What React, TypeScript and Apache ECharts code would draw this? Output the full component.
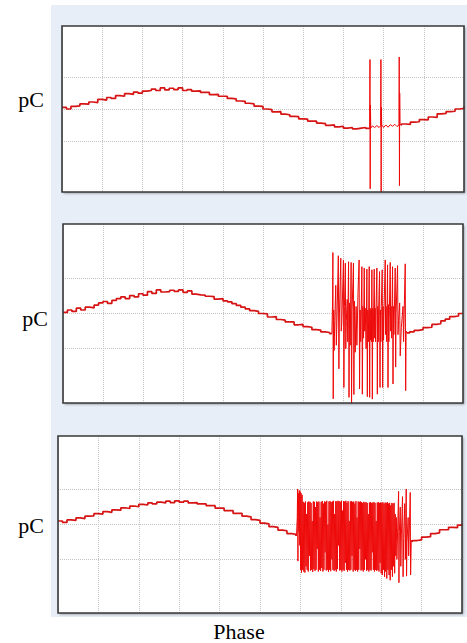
import React, { useEffect, useRef } from 'react';
import * as echarts from 'echarts';

// Base waveform samples every 4 degrees of phase (0..360)
const PHASE_STEP = 4;
const PHASE_MAX = 360;
const PHASE_TICK = 36;
const gridLevels = [-1, 0, 1];

const base1 = [
  0.05, 0.0, 0.08, 0.1, 0.16, 0.15, 0.22, 0.2, 0.3, 0.28,
  0.36, 0.33, 0.42, 0.4, 0.48, 0.46, 0.53, 0.5, 0.56, 0.58,
  0.62, 0.58, 0.66, 0.6, 0.65, 0.61, 0.66, 0.58, 0.61, 0.56,
  0.57, 0.52, 0.52, 0.45, 0.46, 0.4, 0.4, 0.33, 0.32, 0.25,
  0.24, 0.18, 0.16, 0.09, 0.08, 0.0, -0.02, -0.09, -0.08, -0.16,
  -0.18, -0.23, -0.24, -0.31, -0.32, -0.38, -0.38, -0.44, -0.46, -0.51,
  -0.5, -0.56, -0.54, -0.6, -0.58, -0.62, -0.6, -0.58, -0.61, -0.57,
  -0.56, -0.55, -0.53, -0.56, -0.5, -0.53, -0.47, -0.48, -0.41, -0.4,
  -0.33, -0.34, -0.25, -0.26, -0.15, -0.14, -0.08, -0.07, 0.0, 0.02, 0.08,
];
const spikes1: [number, number][] = [
  [275.5, -0.58], [275.8, 1.55], [276.0, -2.5], [276.2, 0.12], [276.5, -0.6],
  [278, -0.53], [280, -0.58], [282, -0.52], [284, -0.58],
  [285.4, -0.52], [285.6, 1.55], [285.8, -2.6], [286, 0.05], [286.3, -0.5],
  [288, -0.58], [290, -0.5], [292, -0.57], [294, -0.49], [296, -0.54], [298, -0.48], [300, -0.55],
  [301.8, -0.5], [302, 1.63], [302.2, -2.4], [302.4, 0.5], [302.7, -0.45], [303.2, -0.5],
];

const base2 = [
  0.03, 0.1, 0.06, 0.15, 0.1, 0.18, 0.16, 0.24, 0.3, 0.34,
  0.29, 0.37, 0.42, 0.47, 0.42, 0.51, 0.47, 0.56, 0.52, 0.62,
  0.57, 0.67, 0.61, 0.62, 0.66, 0.63, 0.67, 0.6, 0.64, 0.55,
  0.53, 0.52, 0.49, 0.48, 0.41, 0.42, 0.36, 0.33, 0.28, 0.23,
  0.18, 0.13, 0.08, 0.06, 0.0, -0.01, -0.1, -0.09, -0.17, -0.19,
  -0.24, -0.24, -0.32, -0.31, -0.37, -0.39, -0.46, -0.47, -0.52, -0.54,
  -0.57, -0.58, -0.58, -0.57, -0.56, -0.56, -0.55, -0.55, -0.55, -0.55,
  -0.55, -0.55, -0.55, -0.55, -0.54, -0.54, -0.53, -0.53, -0.52, -0.48,
  -0.46, -0.4, -0.39, -0.31, -0.29, -0.21, -0.16, -0.09, -0.07, 0.0, 0.0,
];
const burst2: [number, number][] = [
  [242.0, -0.57], [242.6, 0.3], [242.9, 1.73], [243.2, -2.42], [243.6, 0.1], [244, -1.05], [244.6, -0.2],
  [245.5, 0.8], [246, -0.9], [246.6, -0.1], [247.8, 1.64], [248.3, -1.57], [248.8, 0.0],
  [250.0, 1.57], [250.4, -0.5], [250.9, -0.3], [252.4, 1.52], [252.8, -2.1], [253.3, 0.2],
  [254.1, 1.43], [254.5, -1.0], [255, -0.2], [255.8, 0.4], [256.2, -0.8], [257.0, 1.47], [257.4, -2.38],
  [257.9, 0.3], [258.5, -0.9], [259.3, 1.45], [259.7, -2.55], [260.2, 0.1], [261.4, 1.43], [261.8, -2.3],
  [262.3, 0.35], [263, -1.1], [263.8, 0.2], [264.5, -0.9], [265.5, 0.6], [266.5, 1.52], [266.9, -2.14],
  [267.4, 0.1], [268, -0.8], [269.0, 1.33], [269.4, -2.29], [269.9, 0.2], [270.5, -0.7], [271.1, 1.29],
  [271.5, -0.5], [272, 0.15], [272.8, -1.0], [273.5, 1.26], [273.9, -2.36], [274.3, 0.1], [274.8, -0.8],
  [275.6, 1.33], [276, -2.38], [276.4, 0.15], [276.8, -0.75], [277.3, 0.1], [277.6, -0.8], [278.0, 1.24],
  [278.4, -2.43], [278.8, 0.15], [279.2, -0.8], [279.6, 0.1], [280.1, 1.26], [280.5, -0.7], [280.9, 0.15],
  [281.3, -0.8], [281.7, 0.1], [282.5, 1.29], [282.9, -2.29], [283.3, 0.2], [283.7, -0.8], [284.1, 0.15],
  [284.9, 1.19], [285.3, -2.1], [285.7, 0.1], [286.1, -0.8], [286.5, 0.2], [287.3, 1.24], [287.7, -2.1],
  [288.1, 0.2], [288.5, -0.75], [289, 0.2], [290.0, 1.52], [290.4, -0.6], [290.8, 0.2], [291.3, -0.8],
  [292.1, 1.38], [292.5, -2.1], [292.9, 0.25], [293.3, -0.8], [293.8, 0.2], [294.5, 1.45], [294.9, -0.5],
  [295.3, 0.2], [295.8, -0.7], [296.6, 1.33], [297, -2.0], [297.4, 0.2], [297.8, -0.6], [299.0, 1.29],
  [299.4, -1.52], [299.8, 0.0], [301.1, 1.36], [301.5, -0.6], [302, -0.2], [303, 0.3], [303.5, -1.2],
  [304.5, -0.4], [306, 0.2], [306.5, -0.8], [308.0, 1.41], [308.4, -2.19], [308.8, -0.5], [309.5, -0.55],
];

const base3 = [
  0.1, 0.06, 0.13, 0.12, 0.19, 0.17, 0.24, 0.25, 0.31, 0.3,
  0.37, 0.35, 0.42, 0.41, 0.48, 0.46, 0.53, 0.51, 0.58, 0.56,
  0.62, 0.59, 0.64, 0.62, 0.67, 0.63, 0.68, 0.64, 0.67, 0.62,
  0.63, 0.59, 0.59, 0.54, 0.54, 0.47, 0.47, 0.4, 0.4, 0.32,
  0.32, 0.24, 0.22, 0.14, 0.12, 0.04, 0.02, -0.06, -0.08, -0.16,
  -0.18, -0.26, -0.28, -0.33, -0.36, -0.4, -0.43, -0.46, -0.48, -0.5,
  -0.52, -0.53, -0.54, -0.55, -0.55, -0.55, -0.55, -0.55, -0.55, -0.54,
  -0.54, -0.53, -0.52, -0.52, -0.5, -0.5, -0.5, -0.49, -0.49, -0.46,
  -0.44, -0.36, -0.35, -0.26, -0.24, -0.15, -0.15, -0.08, -0.09, -0.02, 0.02,
];
const burst3: [number, number][] = [
  [212.5, -0.33], [213.2, 0.2], [213.5, 1.02], [213.8, -1.05], [214.2, 0.9], [214.6, -0.2], [215, 0.98],
  [215.4, -0.6], [215.8, 0.95], [216.2, -1.3], [216.6, 0.9], [217, -1.38], [217.5, 0.85], [218, -1.3],
  [218.5, 0.65], [219, -1.35], [219.5, 0.62], [220, -1.38], [220.5, 0.66], [221, -1.2], [221.5, 0.3],
  [222, -1.3], [222.5, 0.64], [223, -1.35], [223.5, 0.66], [224, -0.9], [224.5, 0.65], [225, -1.32],
  [225.5, 0.62], [226, -1.3], [226.5, 0.1], [227, -1.36], [227.5, 0.66], [228, -1.28], [228.5, 0.65],
  [229, -1.33], [229.5, 0.5], [230, -1.3], [230.5, 0.66], [231, -0.7], [231.5, 0.64], [232, -1.35],
  [232.5, 0.66], [233, -1.3], [233.5, 0.2], [234, -1.33], [234.5, 0.65], [235, -1.25], [235.5, 0.67],
  [236, -1.35], [236.5, 0.6], [237, -1.3], [237.5, 0.66], [238, -0.8], [238.5, 0.65], [239, -1.32],
  [239.5, 0.68], [240, -1.3], [240.5, 0.0], [241, -1.36], [241.5, 0.66], [242, -1.3], [242.5, 0.67],
  [243, -1.34], [243.5, 0.64], [244, -1.0], [244.5, 0.66], [245, -1.3], [245.5, 0.68], [246, -1.33],
  [246.5, 0.3], [247, -1.3], [247.5, 0.67], [248, -1.35], [248.5, 0.66], [249, -1.28], [249.5, 0.68],
  [250, -0.6], [250.5, 0.67], [251, -1.32], [251.5, 0.65], [252, -1.3], [252.5, 0.68], [253, -1.35],
  [253.5, 0.4], [254, -1.3], [254.5, 0.67], [255, -1.33], [255.5, 0.66], [256, -1.1], [256.5, 0.68],
  [257, -1.3], [257.5, 0.62], [258, -1.35], [258.5, 0.67], [259, -1.3], [259.5, 0.1], [260, -1.32],
  [260.5, 0.66], [261, -1.3], [261.5, 0.67], [262, -0.9], [262.5, 0.65], [263, -1.35], [263.5, 0.66],
  [264, -1.3], [264.5, 0.6], [265, -1.33], [265.5, 0.67], [266, -1.3], [266.5, 0.2], [267, -1.35],
  [267.5, 0.66], [268, -1.3], [268.5, 0.65], [269, -0.7], [269.5, 0.66], [270, -1.32], [270.5, 0.64],
  [271, -1.3], [271.5, 0.62], [272, -1.35], [272.5, 0.65], [273, -1.3], [273.5, 0.63], [274, -1.0],
  [274.5, 0.64], [275, -1.33], [275.5, 0.62], [276, -1.3], [276.5, 0.3], [277, -1.35], [277.5, 0.63],
  [278, -1.3], [278.5, 0.64], [279, -1.32], [279.5, 0.62], [280, -0.8], [280.5, 0.63], [281, -1.3],
  [281.5, 0.64], [282, -1.35], [282.5, 0.62], [283, -1.3], [283.5, 0.1], [284, -1.33], [284.5, 0.63],
  [285, -1.3], [285.5, 0.64], [286, -1.35], [286.5, 0.62], [287, -1.1], [287.5, 0.63], [288, -1.4],
  [288.5, 0.62], [289, -1.45], [289.5, 0.64], [290, -1.3], [290.5, 0.6], [291, -1.5], [291.5, 0.63],
  [292, -1.35], [292.5, 0.62], [293, -1.55], [293.5, 0.64], [294, -1.3], [294.5, 0.6], [295, -1.45],
  [295.5, 0.62], [296, -1.6], [296.5, 0.55], [297, -1.3], [297.5, 0.62], [298, -1.5], [298.5, 0.6],
  [299, -1.2], [299.5, 0.62], [300, -1.4], [300.5, 0.3], [301, -0.9], [301.5, 0.2], [302, -1.0],
  [303.5, 0.95], [303.8, -1.67], [304.2, -0.2], [305, 0.5], [305.5, -1.2], [306, -0.3], [307, 0.8],
  [307.5, -1.5], [308, -0.4], [309, 0.6], [309.5, -1.0], [310.3, 1.02], [310.6, -1.48], [311, -0.5],
  [312, 0.2], [312.5, -0.9], [313.9, 0.92], [314.2, -1.45], [314.8, -0.45], [315.5, -0.5],
];

const panels = [
  { base: base1, burst: spikes1, yLimit: 2.6, left: 62, top: 26, width: 402, height: 166, labelX: 31, labelY: 99 },
  { base: base2, burst: burst2, yLimit: 2.54, left: 63, top: 224, width: 400, height: 179, labelX: 35, labelY: 318 },
  { base: base3, burst: burst3, yLimit: 2.54, left: 58, top: 436, width: 404, height: 177, labelX: 31, labelY: 525 },
];

const yLabel = 'pC';
const xLabel = 'Phase';

function buildOption() {
  const grid: any[] = [];
  const xAxis: any[] = [];
  const yAxis: any[] = [];
  const series: any[] = [];
  const graphic: any[] = [];

  panels.forEach((p, i) => {
    grid.push({
      left: p.left, top: p.top, width: p.width, height: p.height,
      show: true, backgroundColor: '#ffffff', borderWidth: 0,
      shadowColor: 'rgba(0,0,0,0.35)', shadowBlur: 2, shadowOffsetX: 1.5, shadowOffsetY: 1.5,
    });
    xAxis.push({
      type: 'value', gridIndex: i, min: 0, max: PHASE_MAX, interval: PHASE_TICK,
      axisLine: { show: false }, axisTick: { show: false }, axisLabel: { show: false },
      splitLine: { show: true, lineStyle: { color: '#c4c4c4', type: 'dotted', width: 1 } },
    });
    yAxis.push({
      type: 'value', gridIndex: i, min: -p.yLimit, max: p.yLimit,
      axisLine: { show: false }, axisTick: { show: false }, axisLabel: { show: false },
      splitLine: { show: false },
    });
    const lo = p.burst[0][0];
    const hi = p.burst[p.burst.length - 1][0];
    const pts = p.base.map((v, k) => [k * PHASE_STEP, v] as [number, number]);
    const left = pts.filter((d) => d[0] < lo).concat([p.burst[0]]);
    const right = [p.burst[p.burst.length - 1] as [number, number]].concat(pts.filter((d) => d[0] > hi));
    const baseStyle = { color: '#d61414', width: 1.7 };
    series.push({
      type: 'line', xAxisIndex: i, yAxisIndex: i, data: left, step: 'end', showSymbol: false,
      lineStyle: baseStyle, z: 3, silent: true,
      markLine: {
        z: 1, silent: true, symbol: ['none', 'none'], label: { show: false },
        lineStyle: { color: '#c4c4c4', type: 'dotted', width: 1 },
        data: gridLevels.map((g) => ({ yAxis: g })),
      },
    });
    series.push({
      type: 'line', xAxisIndex: i, yAxisIndex: i, data: p.burst, showSymbol: false,
      lineStyle: { color: '#ee0a0a', width: 1 }, z: 3, silent: true,
    });
    series.push({
      type: 'line', xAxisIndex: i, yAxisIndex: i, data: right, step: 'end', showSymbol: false,
      lineStyle: baseStyle, z: 3, silent: true,
    });
    graphic.push({
      type: 'rect', z: 100, silent: true,
      shape: { x: p.left, y: p.top, width: p.width, height: p.height },
      style: { fill: 'none', stroke: '#383838', lineWidth: 1.6 },
    });
    graphic.push({
      type: 'text', z: 100, x: p.labelX, y: p.labelY, silent: true,
      style: { text: yLabel, font: '22px "Liberation Serif", "Times New Roman", serif', fill: '#000', align: 'center', verticalAlign: 'middle' },
    });
  });

  graphic.push({
    type: 'text', z: 100, x: 239, y: 631, silent: true,
    style: { text: xLabel, font: '22px "Liberation Serif", "Times New Roman", serif', fill: '#000', align: 'center', verticalAlign: 'middle' },
  });

  return { animation: false, backgroundColor: 'transparent', grid, xAxis, yAxis, series, graphic };
}

export default function App() {
  const ref = useRef<HTMLDivElement>(null);
  useEffect(() => {
    if (!ref.current) return;
    const chart = echarts.init(ref.current, undefined, { renderer: 'svg' });
    chart.setOption(buildOption() as any);
    return () => chart.dispose();
  }, []);
  return (
    <div style={{ position: 'absolute', left: 0, top: 0, width: 467, height: 643, background: '#ffffff' }}>
      <div style={{ position: 'absolute', left: 51, top: 5, width: 416, height: 612, background: '#e8eef8' }} />
      <div ref={ref} style={{ position: 'absolute', left: 0, top: 0, width: 467, height: 643 }} />
    </div>
  );
}
